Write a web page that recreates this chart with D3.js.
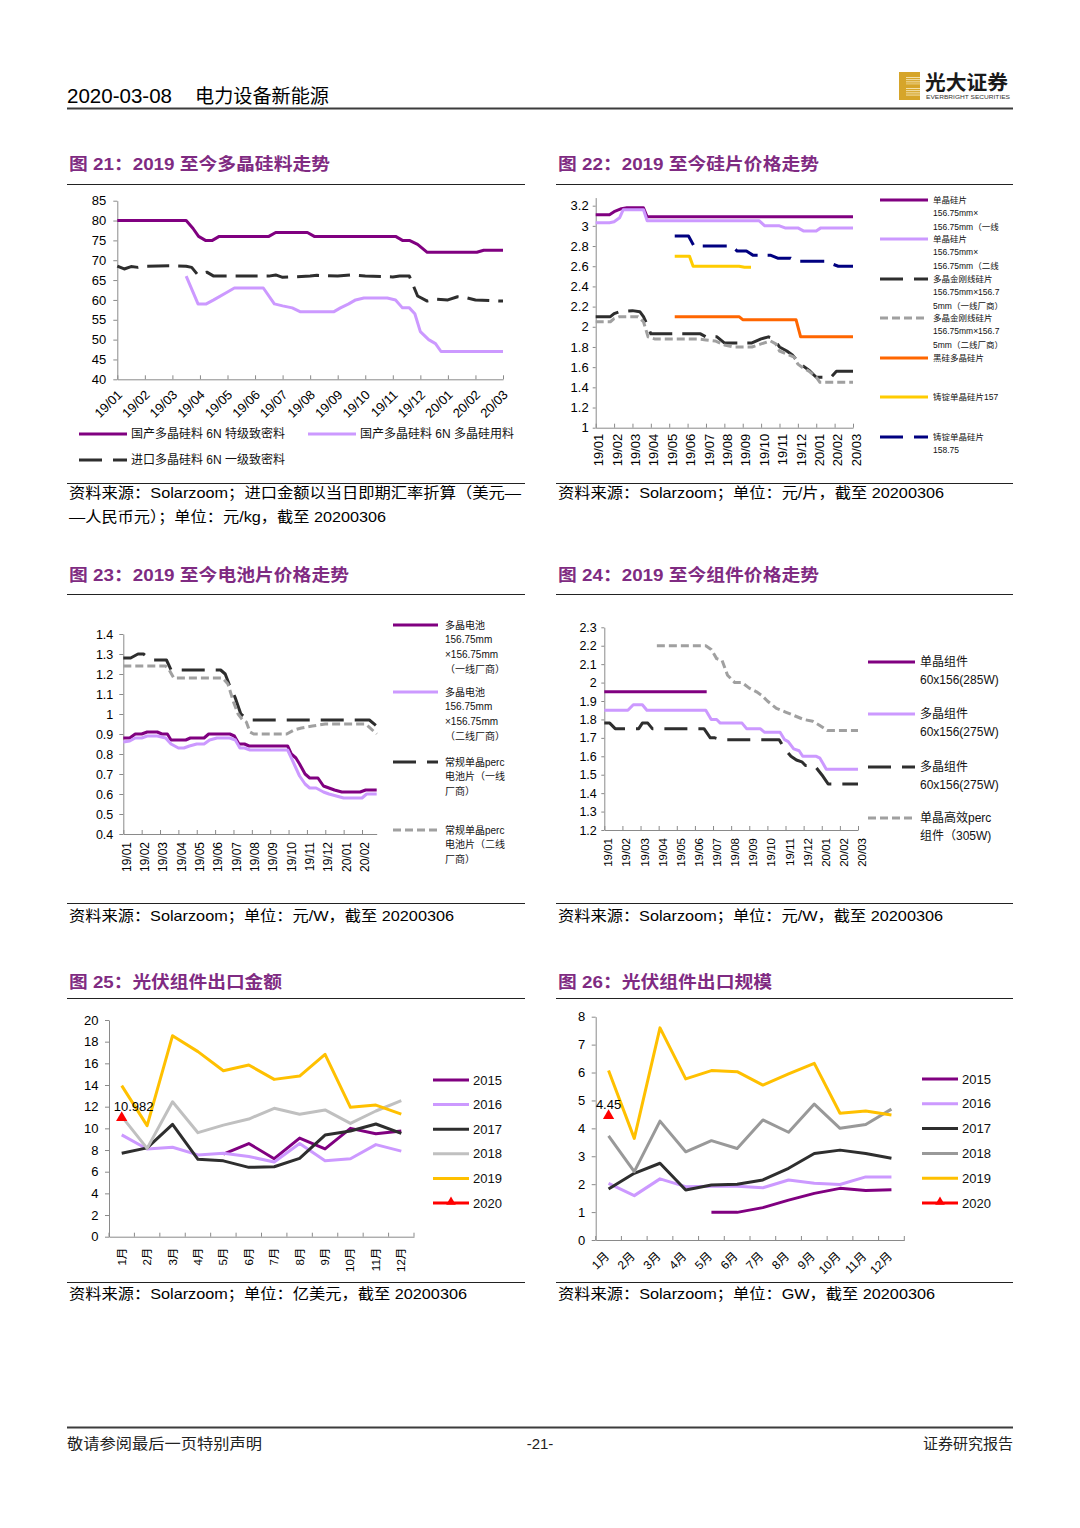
<!DOCTYPE html>
<html><head><meta charset="utf-8">
<script src="https://cdn.jsdelivr.net/npm/d3@7/dist/d3.min.js"></script>
<style>body{margin:0;background:#fff;}</style>
</head><body>
<svg id="page" width="1080" height="1528"></svg>
<script>
// ================= DATA =================
const months19 = ["19/01","19/02","19/03","19/04","19/05","19/06","19/07","19/08","19/09","19/10","19/11","19/12","20/01","20/02","20/03"];
const months19b = ["19/01","19/02","19/03","19/04","19/05","19/06","19/07","19/08","19/09","19/10","19/11","19/12","20/01","20/02"];
const monthsCN = ["1月","2月","3月","4月","5月","6月","7月","8月","9月","10月","11月","12月"];

// Chart 21  [month index, 元/kg]
const c21YTicks = [40,45,50,55,60,65,70,75,80,85];
const c21Dense = [[0,80],[2.5,80],[2.75,78],[2.95,76],[3.2,75],[3.45,75],[3.7,76],[5.5,76],[5.75,77],[6.9,77],[7.15,76],[10.1,76],[10.35,75],[10.6,75],[10.9,74],[11.25,72],[13.05,72],[13.3,72.5],[14,72.5]];
const c21Poly = [[2.5,66],[2.93,59],[3.23,59],[3.5,60],[4.0,62],[4.25,63],[5.3,63],[5.7,59],[6.0,58.5],[6.35,58],[6.65,57],[7.85,57],[8.1,58],[8.4,59],[8.65,60],[8.95,60.5],[9.8,60.5],[10.1,60],[10.35,58],[10.6,58],[10.8,56.5],[11.0,52],[11.3,50],[11.55,49],[11.75,47],[14,47]];
const c21Import = [[0,68.5],[0.25,67.8],[0.5,68.4],[0.75,68.2],[1.0,68.5],[2.0,68.6],[2.5,68.5],[2.7,68.2],[2.9,66.5],[3.25,67],[3.5,66],[5.5,66],[5.75,66.3],[6.0,65.7],[7.0,66],[7.25,66.2],[8.0,66],[8.5,66.3],[9.0,66],[10.0,65.8],[10.25,66],[10.6,66],[10.9,61],[11.25,59.7],[11.6,60.2],[12.0,60],[12.35,60.8],[12.7,60.5],[13.0,60],[13.6,59.8],[14,59.7]];
const c21Names = ["国产多晶硅料 6N 特级致密料","国产多晶硅料 6N 多晶硅用料","进口多晶硅料 6N 一级致密料"];

// Chart 22  [month index, 元/片]
const c22YTicks = [1,1.2,1.4,1.6,1.8,2,2.2,2.4,2.6,2.8,3,3.2];
const c22MonoT1 = [[0,3.11],[0.75,3.11],[1.0,3.14],[1.4,3.17],[1.7,3.18],[2.6,3.18],[2.8,3.09],[14,3.09]];
const c22MonoT2 = [[0,3.03],[0.75,3.03],[1.0,3.04],[1.3,3.08],[1.5,3.16],[2.6,3.16],[2.8,3.05],[8.9,3.05],[9.2,3.0],[10.0,3.0],[10.3,2.98],[11.0,2.98],[11.3,2.95],[12.0,2.95],[12.25,2.98],[14,2.98]];
const c22PolyT1 = [[0,2.1],[0.8,2.1],[1.0,2.13],[1.3,2.15],[2.0,2.16],[2.4,2.15],[2.6,2.1],[2.8,2.02],[3.0,1.93],[5.7,1.93],[6.0,1.9],[6.6,1.9],[7.0,1.84],[8.5,1.84],[9.0,1.88],[9.4,1.9],[9.7,1.88],[10.0,1.8],[10.4,1.76],[10.7,1.72],[11.0,1.66],[11.3,1.61],[11.6,1.57],[12.0,1.5],[12.8,1.5],[13.1,1.56],[14,1.56]];
const c22PolyT2 = [[0,2.05],[0.8,2.05],[1.0,2.08],[1.3,2.1],[2.3,2.1],[2.6,2.05],[2.85,1.9],[3.2,1.88],[5.5,1.88],[6.0,1.87],[6.5,1.86],[7.0,1.82],[7.5,1.8],[8.5,1.8],[9.0,1.83],[9.5,1.86],[9.8,1.83],[10.0,1.76],[10.4,1.73],[10.8,1.7],[11.0,1.63],[11.3,1.59],[11.6,1.56],[12.0,1.5],[12.2,1.45],[14,1.45]];
const c22BlackSi = [[4.3,2.1],[7.8,2.1],[8.0,2.07],[10.9,2.07],[11.15,1.9],[14,1.9]];
const c22Cast157 = [[4.3,2.7],[5.1,2.7],[5.3,2.6],[7.8,2.6],[8.1,2.59],[8.45,2.59]];
const c22Cast158 = [[4.3,2.9],[5.05,2.9],[5.35,2.8],[7.4,2.8],[7.7,2.75],[8.2,2.75],[8.55,2.71],[9.5,2.71],[9.9,2.68],[10.6,2.68],[10.9,2.65],[12.5,2.65],[12.9,2.62],[13.2,2.6],[14,2.6]];
const c22Names = [["单晶硅片","156.75mm×","156.75mm（一线"],["单晶硅片","156.75mm×","156.75mm（二线"],["多晶金刚线硅片","156.75mm×156.7","5mm（一线厂商）"],["多晶金刚线硅片","156.75mm×156.7","5mm（二线厂商）"],["黑硅多晶硅片"],["铸锭单晶硅片157"],["铸锭单晶硅片","158.75"]];

// Chart 23  [month index, 元/W]
const c23YTicks = [0.4,0.5,0.6,0.7,0.8,0.9,1,1.1,1.2,1.3,1.4];
const c23PolyT1 = [[0,0.88],[0.35,0.88],[0.65,0.9],[1.0,0.9],[1.3,0.91],[1.85,0.91],[2.1,0.9],[2.4,0.9],[2.6,0.87],[3.4,0.87],[3.65,0.88],[4.4,0.88],[4.65,0.9],[5.8,0.9],[6.05,0.89],[6.3,0.85],[6.6,0.85],[6.85,0.84],[8.95,0.84],[9.15,0.8],[9.4,0.78],[9.6,0.75],[9.9,0.7],[10.15,0.68],[10.6,0.68],[10.9,0.64],[11.2,0.63],[11.5,0.62],[11.9,0.61],[12.9,0.61],[13.2,0.62],[13.8,0.62]];
const c23PolyT2 = [[0,0.86],[0.35,0.865],[0.65,0.88],[1.0,0.88],[1.3,0.89],[1.85,0.89],[2.3,0.88],[2.6,0.85],[3.0,0.83],[3.3,0.83],[3.6,0.84],[4.0,0.85],[4.4,0.85],[4.7,0.87],[5.1,0.88],[5.8,0.88],[6.1,0.87],[6.35,0.83],[6.6,0.83],[6.9,0.82],[8.95,0.82],[9.3,0.75],[9.6,0.69],[9.9,0.65],[10.15,0.63],[10.5,0.63],[10.9,0.61],[11.2,0.6],[11.6,0.59],[12.0,0.58],[13.0,0.58],[13.25,0.6],[13.8,0.6]];
const c23PercT1 = [[0,1.28],[0.4,1.28],[0.8,1.3],[1.1,1.3],[1.5,1.27],[2.35,1.27],[2.6,1.22],[5.3,1.22],[5.55,1.2],[5.8,1.14],[6.1,1.08],[6.4,1.0],[6.8,0.97],[13.4,0.97],[13.8,0.94]];
const c23PercT2 = [[0,1.24],[2.3,1.24],[2.5,1.22],[2.75,1.18],[5.4,1.18],[5.7,1.15],[6.0,1.06],[6.25,1.0],[6.5,0.97],[6.7,0.96],[6.9,0.91],[7.1,0.9],[8.9,0.9],[9.3,0.92],[9.7,0.93],[10.3,0.94],[11.0,0.95],[13.2,0.95],[13.8,0.9]];
const c23Names = [["多晶电池","156.75mm","×156.75mm","（一线厂商）"],["多晶电池","156.75mm","×156.75mm","（二线厂商）"],["常规单晶perc","电池片（一线","厂商）"],["常规单晶perc","电池片（二线","厂商）"]];

// Chart 24  [month index, 元/W]
const c24YTicks = [1.2,1.3,1.4,1.5,1.6,1.7,1.8,1.9,2,2.1,2.2,2.3];
const c24Mono285 = [[0,1.95],[5.65,1.95]];
const c24Poly275T2 = [[0,1.85],[1.3,1.85],[1.6,1.88],[2.1,1.88],[2.35,1.85],[5.6,1.85],[5.9,1.8],[6.2,1.8],[6.4,1.78],[7.6,1.78],[7.85,1.75],[8.6,1.75],[8.85,1.73],[9.7,1.73],[9.95,1.69],[10.15,1.68],[10.45,1.64],[10.75,1.63],[10.95,1.6],[11.7,1.6],[11.9,1.59],[12.25,1.53],[14,1.53]];
const c24Poly275T1 = [[0,1.78],[0.3,1.78],[0.6,1.75],[1.9,1.75],[2.1,1.78],[2.4,1.78],[2.65,1.75],[5.5,1.75],[5.85,1.7],[6.1,1.7],[6.45,1.69],[9.65,1.69],[9.95,1.64],[10.3,1.6],[10.6,1.58],[10.9,1.57],[11.1,1.55],[11.6,1.55],[12.0,1.5],[12.35,1.45],[14,1.45]];
const c24Perc305 = [[2.9,2.2],[5.6,2.2],[5.9,2.18],[6.2,2.13],[6.5,2.12],[6.8,2.04],[7.2,2.0],[7.6,2.0],[8.0,1.97],[8.4,1.95],[8.7,1.93],[9.0,1.9],[9.5,1.86],[10.0,1.84],[10.5,1.82],[11.0,1.8],[11.5,1.79],[11.85,1.77],[12.3,1.74],[14,1.74]];
const c24Names = [["单晶组件","60x156(285W)"],["多晶组件","60x156(275W)"],["多晶组件","60x156(275W)"],["单晶高效perc","组件（305W)"]];

// Chart 25  亿美元
const c25YTicks = [0,2,4,6,8,10,12,14,16,18,20];
const c25Y2015 = [null,null,null,null,7.63,8.6,7.2,9.1,8.1,10.0,9.5,9.75];
const c25Y2016 = [9.4,8.1,8.25,7.55,7.7,7.4,6.9,8.6,7.0,7.2,8.5,7.9];
const c25Y2017 = [7.7,8.2,10.37,7.14,7.0,6.4,6.46,7.23,9.38,9.75,10.4,9.54];
const c25Y2018 = [11.1,8.15,12.46,9.6,10.3,10.86,11.85,11.3,11.7,10.46,11.6,12.55];
const c25Y2019 = [13.94,10.25,18.55,17.08,15.32,15.85,14.52,14.83,16.83,11.94,12.15,11.32];
const c25Y2020 = [10.982];

// Chart 26  GW
const c26YTicks = [0,1,2,3,4,5,6,7,8];
const c26Y2015 = [null,null,null,null,0.99,0.99,1.16,1.43,1.67,1.85,1.77,1.8];
const c26Y2016 = [2.03,1.59,2.19,1.91,1.93,1.93,1.87,2.15,2.03,1.99,2.26,2.26];
const c26Y2017 = [1.83,2.39,2.75,1.79,1.97,2.0,2.15,2.57,3.1,3.22,3.1,2.93];
const c26Y2018 = [3.73,2.45,4.26,3.16,3.56,3.28,4.3,3.86,4.87,4.0,4.14,4.69];
const c26Y2019 = [6.07,3.64,7.6,5.77,6.07,6.03,5.55,5.95,6.33,4.54,4.62,4.48];
const c26Y2020 = [4.45];
const yearNames = ["2015","2016","2017","2018","2019","2020"];

// ================= DRAWING =================
const FONT = '"Liberation Sans","Noto Sans CJK SC",sans-serif';
const CJK = '"Noto Sans CJK SC",sans-serif';
const svg = d3.select("#page").attr("font-family", FONT);
svg.append("rect").attr("width",1080).attr("height",1528).attr("fill","#fff");

const C = {purple:"#800080", lav:"#CC99FF", dark:"#2E2E2E", gray:"#A0A0A0", orange:"#FF6600", yellow:"#FFCC00", navy:"#000080", gold:"#FFC000", lgray:"#C0C0C0", mgray:"#999999", red:"#FF0000", title:"#7F2B82"};

function hline(x1,x2,y,w,c){ svg.append("line").attr("x1",x1).attr("x2",x2).attr("y1",y).attr("y2",y).attr("stroke",c).attr("stroke-width",w); }
function txt(x,y,s,size,o={}){
  const t = svg.append("text").attr("x",x).attr("y",y).attr("font-size",size).attr("fill",o.fill||"#000").text(s);
  if(o.anchor) t.attr("text-anchor",o.anchor);
  if(o.weight) t.attr("font-weight",o.weight);
  if(o.family) t.attr("font-family",o.family);
  if(o.len) t.attr("textLength",o.len).attr("lengthAdjust","spacingAndGlyphs");
  return t;
}

// Header
txt(67,103,"2020-03-08",20,{len:105});
txt(195,103,"电力设备新能源",19,{family:CJK,len:134});
hline(67,1013,108.5,2,"#3c3c3c");
// logo
const logo = svg.append("g").attr("transform","translate(899,72)");
logo.append("rect").attr("width",21).attr("height",28).attr("fill","#D6A52A");
for(let i=0;i<9;i++){ logo.append("rect").attr("x",7).attr("y",5+i*2.2).attr("width",14).attr("height",0.9).attr("fill","#F6E7B8"); }
logo.append("rect").attr("x",7).attr("y",12.5).attr("width",14).attr("height",3).attr("fill","#D6A52A");
txt(925,90,"光大证券",20,{family:CJK,weight:"bold",len:83,fill:"#1a1a1a"});
txt(926,99,"EVERBRIGHT SECURITIES",5.5,{len:84,fill:"#333"});

// Footer
hline(67,1013,1427.5,2,"#3c3c3c");
txt(67,1449,"敬请参阅最后一页特别声明",15,{family:CJK,len:195,fill:"#222"});
txt(540,1449,"-21-",15,{anchor:"middle",fill:"#222"});
txt(1013,1449,"证券研究报告",15,{family:CJK,anchor:"end",fill:"#222"});

// Titles & sources
function title(x,y,s,len){ txt(x,y,s,17,{weight:"bold",fill:C.title,len:len}); }
title(69,170,"图 21：2019 至今多晶硅料走势",261);
title(558,170,"图 22：2019 至今硅片价格走势",261);
title(69,581,"图 23：2019 至今电池片价格走势",280);
title(558,581,"图 24：2019 至今组件价格走势",261);
title(69,988,"图 25：光伏组件出口金额",213);
title(558,988,"图 26：光伏组件出口规模",214);
[184.5,594.5,998.5].forEach(y=>{ hline(67,525,y,1.2,"#222"); hline(556,1013,y,1.2,"#222"); });
[483.5,903.5,1282.5].forEach(y=>{ hline(67,525,y,1.2,"#222"); hline(556,1013,y,1.2,"#222"); });
txt(69,497.5,"资料来源：Solarzoom；进口金额以当日即期汇率折算（美元—",15,{len:452});
txt(69,521.5,"—人民币元）；单位：元/kg，截至 20200306",15,{len:317});
txt(558,497.5,"资料来源：Solarzoom；单位：元/片，截至 20200306",15,{len:386});
txt(69,921,"资料来源：Solarzoom；单位：元/W，截至 20200306",15,{len:385});
txt(558,921,"资料来源：Solarzoom；单位：元/W，截至 20200306",15,{len:385});
txt(69,1299,"资料来源：Solarzoom；单位：亿美元，截至 20200306",15,{len:398});
txt(558,1299,"资料来源：Solarzoom；单位：GW，截至 20200306",15,{len:377});

function styleAxis(g,size){
  g.attr("font-family",FONT).attr("font-size",size);
  g.selectAll("path,line").attr("stroke","#8a8a8a");
  g.selectAll("text").attr("fill","#000");
}

function lineChart(o){
  const g = svg.append("g");
  const x = d3.scaleLinear().domain(o.xd).range([o.L,o.R]);
  const y = d3.scaleLinear().domain(o.yd).range([o.B,o.T]);
  const ya = g.append("g").attr("transform",`translate(${o.L},0)`)
    .call(d3.axisLeft(y).tickValues(o.yTicks).tickFormat(d=>String(d)).tickSize(o.yTick).tickSizeOuter(0).tickPadding(o.yPad));
  styleAxis(ya,o.yFont);
  const xa = g.append("g").attr("transform",`translate(0,${o.B})`)
    .call(d3.axisBottom(x).tickValues(d3.range(o.labels.length)).tickFormat(i=>o.labels[i]).tickSize(-4).tickSizeOuter(0));
  styleAxis(xa,o.xFont);
  xa.selectAll("text").attr("x",0).attr("y",0).attr("dy","0.35em").attr("text-anchor","end")
    .attr("transform",`translate(${o.lx},${o.ly}) rotate(${o.rot})`);
  const line = d3.line().x(d=>x(d[0])).y(d=>y(d[1]));
  o.series.forEach(s=>{
    g.append("path").datum(s.data).attr("d",line).attr("fill","none")
      .attr("stroke",s.color).attr("stroke-width",s.w||3).attr("stroke-dasharray",s.dash||null)
      .attr("stroke-linejoin","round");
  });
}

function legend(items,o){
  items.forEach((it,i)=>{
    const yy = o.ys[i];
    const x1 = o.x1s ? o.x1s[i] : o.x1, x2 = x1 + (o.x2 - o.x1), tx = x1 + (o.tx - o.x1);
    svg.append("line").attr("x1",x1).attr("x2",x2).attr("y1",yy).attr("y2",yy)
      .attr("stroke",it.color).attr("stroke-width",3).attr("stroke-dasharray",it.dash||null);
    if(it.marker) svg.append("path").attr("d",d3.symbol(d3.symbolTriangle,40)()).attr("transform",`translate(${(x1+x2)/2},${yy-1})`).attr("fill",it.color);
    const lines = Array.isArray(it.name)?it.name:[it.name];
    lines.forEach((ln,j)=> svg.append("text").attr("x",tx).attr("y",yy+j*o.lh).attr("dy","0.35em")
      .attr("font-size",o.font).attr("fill","#111").text(ln));
  });
}

const DASH_L = "23,11", DASH_S = "8,4";

// Chart 21
lineChart({L:117.3,R:503,T:200.7,B:379.3,xd:[0,14],yd:[40,85],yTicks:c21YTicks,yTick:4,yPad:7,yFont:13,
  labels:months19,xFont:13,lx:2,ly:13,rot:-45,
  series:[{data:c21Dense,color:C.purple},{data:c21Poly,color:C.lav},{data:c21Import,color:C.dark,dash:"22,9"}]});
legend([{name:c21Names[0],color:C.purple},{name:c21Names[1],color:C.lav},{name:c21Names[2],color:C.dark,dash:DASH_L}],
  {x1:79,x2:127,tx:131,x1s:[79,308,79],ys:[434,434,460],lh:0,font:12});

// Chart 22
lineChart({L:595.7,R:853,T:197.6,B:427.7,xd:[0,14],yd:[1,3.28],yTicks:c22YTicks,yTick:3,yPad:4,yFont:13,
  labels:months19,xFont:13,lx:2.6,ly:6,rot:-90,
  series:[{data:c22MonoT1,color:C.purple},{data:c22MonoT2,color:C.lav},{data:c22PolyT1,color:C.dark,dash:"24,10"},
    {data:c22PolyT2,color:C.gray,dash:DASH_S},{data:c22BlackSi,color:C.orange},{data:c22Cast157,color:C.yellow},{data:c22Cast158,color:C.navy,dash:"24,10"}]});
legend([{name:c22Names[0],color:C.purple},{name:c22Names[1],color:C.lav},{name:c22Names[2],color:C.dark,dash:DASH_L},
  {name:c22Names[3],color:C.gray,dash:DASH_S},{name:c22Names[4],color:C.orange},{name:c22Names[5],color:C.yellow},{name:c22Names[6],color:C.navy,dash:DASH_L}],
  {x1:880,x2:928,tx:933,ys:[200,239,279,318,358,397,437],lh:13.4,font:8.5});

// Chart 23
lineChart({L:123.3,R:376.7,T:634,B:834,xd:[0,13.8],yd:[0.4,1.4],yTicks:c23YTicks,yTick:4,yPad:6,yFont:12.5,
  labels:months19b,xFont:12,lx:2.5,ly:8,rot:-90,
  series:[{data:c23PolyT1,color:C.purple},{data:c23PolyT2,color:C.lav},{data:c23PercT1,color:C.dark,dash:DASH_L},{data:c23PercT2,color:C.gray,dash:DASH_S}]});
legend([{name:c23Names[0],color:C.purple},{name:c23Names[1],color:C.lav},{name:c23Names[2],color:C.dark,dash:DASH_L},{name:c23Names[3],color:C.gray,dash:DASH_S}],
  {x1:393,x2:438,tx:445,ys:[625,692,762,830],lh:14.8,font:10});

// Chart 24
lineChart({L:604.3,R:858,T:627.3,B:830,xd:[0,14],yd:[1.2,2.3],yTicks:c24YTicks,yTick:3,yPad:4.5,yFont:12.5,
  labels:months19,xFont:11.5,lx:3.5,ly:8,rot:-90,
  series:[{data:c24Mono285,color:C.purple},{data:c24Poly275T2,color:C.lav},{data:c24Poly275T1,color:C.dark,dash:DASH_L},{data:c24Perc305,color:C.gray,dash:DASH_S}]});
legend([{name:c24Names[0],color:C.purple},{name:c24Names[1],color:C.lav},{name:c24Names[2],color:C.dark,dash:DASH_L},{name:c24Names[3],color:C.gray,dash:DASH_S}],
  {x1:868,x2:915,tx:920,ys:[662,714,767,818],lh:17.5,font:12});

// Category charts
function catChart(o){
  const g = svg.append("g");
  const x = d3.scaleBand().domain(monthsCN).range([o.L,o.R]);
  const cx = m => x(m)+x.bandwidth()/2;
  const y = d3.scaleLinear().domain(o.yd).range([o.B,o.T]);
  const ya = g.append("g").attr("transform",`translate(${o.L},0)`)
    .call(d3.axisLeft(y).tickValues(o.yTicks).tickFormat(d=>String(d)).tickSize(4).tickSizeOuter(0).tickPadding(6.5));
  styleAxis(ya,13);
  const xa = g.append("g").attr("transform",`translate(0,${o.B})`)
    .call(d3.axisBottom(x).tickSize(0).tickSizeOuter(0));
  styleAxis(xa,o.xFont);
  xa.selectAll("text").attr("x",0).attr("y",0).attr("dy","0.35em").attr("text-anchor","end")
    .attr("transform",`translate(${o.lx},${o.ly}) rotate(${o.rot})`);
  const bounds = monthsCN.map(m=>x(m)).concat([x.range()[1]]);
  g.selectAll("line.bt").data(bounds).enter().append("line").attr("class","bt")
    .attr("x1",d=>d).attr("x2",d=>d).attr("y1",o.B).attr("y2",o.B-4).attr("stroke","#8a8a8a");
  const line = d3.line().defined(d=>d!=null).x((d,i)=>cx(monthsCN[i])).y(d=>y(d));
  o.series.forEach(s=>{
    g.append("path").datum(s.data).attr("d",line).attr("fill","none").attr("stroke",s.color)
      .attr("stroke-width",3).attr("stroke-linejoin","round");
  });
  const p = o.point;
  const px = cx(monthsCN[0]), py = y(p.data[0]);
  g.append("path").attr("d",d3.symbol(d3.symbolTriangle,55)()).attr("transform",`translate(${px},${py})`).attr("fill",C.red);
  g.append("text").attr("x",px+p.dx).attr("y",py-7).attr("font-size",13).attr("text-anchor",p.anchor).attr("fill","#000").text(String(p.data[0]));
}

catChart({L:109,R:414,T:1020,B:1236.7,yd:[0,20],yTicks:c25YTicks,xFont:11.5,lx:0,ly:11,rot:-90,
  series:[{data:c25Y2015,color:C.purple},{data:c25Y2016,color:C.lav},{data:c25Y2017,color:C.dark},{data:c25Y2018,color:C.lgray},{data:c25Y2019,color:C.gold}],
  point:{data:c25Y2020,dx:-8,anchor:"start"}});
legend([{name:yearNames[0],color:C.purple},{name:yearNames[1],color:C.lav},{name:yearNames[2],color:C.dark},{name:yearNames[3],color:C.lgray},{name:yearNames[4],color:C.gold},{name:yearNames[5],color:C.red,marker:true}],
  {x1:433,x2:469,tx:473,ys:[1080,1104.6,1129.2,1153.8,1178.4,1203],lh:0,font:13});

catChart({L:595.7,R:904.3,T:1016.7,B:1240,yd:[0,8],yTicks:c26YTicks,xFont:12,lx:-1.5,ly:14,rot:-45,
  series:[{data:c26Y2015,color:C.purple},{data:c26Y2016,color:C.lav},{data:c26Y2017,color:C.dark},{data:c26Y2018,color:C.mgray},{data:c26Y2019,color:C.gold}],
  point:{data:c26Y2020,dx:0,anchor:"middle"}});
legend([{name:yearNames[0],color:C.purple},{name:yearNames[1],color:C.lav},{name:yearNames[2],color:C.dark},{name:yearNames[3],color:C.mgray},{name:yearNames[4],color:C.gold},{name:yearNames[5],color:C.red,marker:true}],
  {x1:922,x2:958,tx:962,ys:[1079,1103.8,1128.6,1153.4,1178.2,1203],lh:0,font:13});
</script>
</body></html>
